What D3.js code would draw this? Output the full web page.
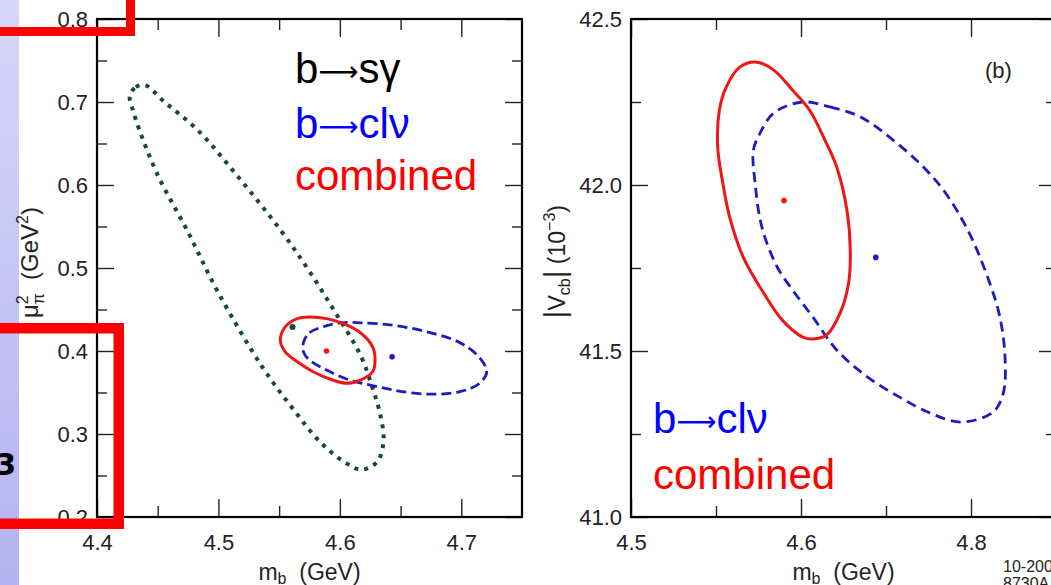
<!DOCTYPE html>
<html>
<head>
<meta charset="utf-8">
<script src="https://cdn.jsdelivr.net/npm/d3@7"></script>
<style>
  html, body { margin: 0; padding: 0; background: #fff; }
  svg { display: block; }
</style>
</head>
<body>
<script>
// ---- Panel (a): mu_pi^2 vs m_b ----
const aXMajor = [4.4, 4.5, 4.6, 4.7];
const aXMinor = [4.45, 4.55, 4.65];
const aYMajor = [0.2, 0.3, 0.4, 0.5, 0.6, 0.7, 0.8];
const aYMinor = [0.25, 0.35, 0.45, 0.55, 0.65, 0.75];
const aXLabels = ["4.4", "4.5", "4.6", "4.7"];
const aYLabels = ["0.2", "0.3", "0.4", "0.5", "0.6", "0.7", "0.8"];

// b -> s gamma contour (m_b, mu_pi^2)
const bsgContour = [
  [4.427, 0.707], [4.432, 0.718], [4.440, 0.720], [4.454, 0.702], [4.483, 0.666],
  [4.515, 0.612], [4.551, 0.546], [4.574, 0.498], [4.596, 0.447], [4.617, 0.395],
  [4.627, 0.355], [4.633, 0.325], [4.636, 0.293], [4.631, 0.267], [4.618, 0.257],
  [4.604, 0.266], [4.584, 0.290], [4.561, 0.331], [4.536, 0.381], [4.500, 0.470],
  [4.474, 0.546], [4.450, 0.612], [4.435, 0.666], [4.429, 0.693]
];
const bsgBest = [4.561, 0.429];

// b -> c l nu contour (m_b, mu_pi^2)
const bclvContourA = [
  [4.570, 0.410], [4.575, 0.422], [4.588, 0.430], [4.600, 0.434], [4.617, 0.434],
  [4.644, 0.431], [4.672, 0.423], [4.699, 0.410], [4.715, 0.392], [4.721, 0.375],
  [4.715, 0.361], [4.699, 0.351], [4.672, 0.348], [4.644, 0.353], [4.625, 0.359],
  [4.608, 0.365], [4.589, 0.377], [4.575, 0.389], [4.570, 0.399]
];
const bclvBestA = [4.643, 0.393];

// combined fit contour (m_b, mu_pi^2)
const combContourA = [
  [4.551, 0.413], [4.555, 0.429], [4.565, 0.439], [4.575, 0.441], [4.589, 0.439],
  [4.603, 0.433], [4.617, 0.422], [4.627, 0.405], [4.629, 0.389], [4.627, 0.375],
  [4.617, 0.365], [4.606, 0.361], [4.594, 0.365], [4.578, 0.375], [4.565, 0.387],
  [4.555, 0.399]
];
const combBestA = [4.589, 0.400];

// ---- Panel (b): |Vcb| vs m_b ----
const bXMajor = [4.5, 4.6, 4.7];
const bXLabels = ["4.5", "4.6", "4.8"];
const bXMinor = [4.55, 4.65];
const bYMajor = [41.0, 41.5, 42.0, 42.5];
const bYLabels = ["41.0", "41.5", "42.0", "42.5"];
const bYMinor = [41.25, 41.75, 42.25];

const bclvContourB = [
  [4.601, 42.250], [4.617, 42.235], [4.635, 42.205], [4.654, 42.136], [4.672, 42.054],
  [4.685, 41.976], [4.699, 41.855], [4.711, 41.705], [4.717, 41.602], [4.720, 41.482],
  [4.719, 41.373], [4.713, 41.316], [4.694, 41.286], [4.676, 41.313], [4.658, 41.361],
  [4.639, 41.422], [4.621, 41.503], [4.607, 41.602], [4.595, 41.684], [4.586, 41.753],
  [4.577, 41.873], [4.573, 42.006], [4.572, 42.105], [4.576, 42.157], [4.584, 42.217]
];
const bclvBestB = [4.644, 41.782];

const combContourB = [
  [4.574, 42.370], [4.584, 42.346], [4.595, 42.286], [4.605, 42.226], [4.614, 42.136],
  [4.621, 42.054], [4.627, 41.925], [4.629, 41.804], [4.628, 41.705], [4.623, 41.614],
  [4.615, 41.548], [4.607, 41.536], [4.601, 41.542], [4.589, 41.593], [4.578, 41.675],
  [4.566, 41.783], [4.558, 41.904], [4.554, 42.006], [4.551, 42.114], [4.552, 42.226],
  [4.556, 42.295], [4.564, 42.355]
];
const combBestB = [4.590, 41.953];

const FONT = "'Liberation Sans', Arial, Helvetica, sans-serif";
const ARROW_FONT = "'DejaVu Sans', sans-serif";
const GREEN = "#17493b", BLUE = "#1c1cc0", RED = "#f01616";

const W = 1051, H = 585;
const svg = d3.select("body").append("svg").attr("width", W).attr("height", H)
  .style("font-family", FONT);

svg.append("rect").attr("width", W).attr("height", H).attr("fill", "#fff");

// slide side bar
const defs = svg.append("defs");
const grad = defs.append("linearGradient").attr("id", "sidebar")
  .attr("x1", 0).attr("y1", 0).attr("x2", 0).attr("y2", 1);
grad.append("stop").attr("offset", 0).attr("stop-color", "#d7d7fa");
grad.append("stop").attr("offset", 1).attr("stop-color", "#b3b3f1");
svg.append("rect").attr("x", 0).attr("y", 0).attr("width", 19).attr("height", H)
  .attr("fill", "url(#sidebar)");

function panel(opts) {
  const x = d3.scaleLinear().domain(opts.xDomain).range([opts.left, opts.right]);
  const y = d3.scaleLinear().domain(opts.yDomain).range([opts.bottom, opts.top]);
  const g = svg.append("g");

  const styleAxis = sel => {
    sel.select(".domain").remove();
    sel.selectAll(".tick line").attr("stroke", "#222").attr("stroke-width", 1.4);
    sel.selectAll(".tick text").attr("fill", "#222").attr("font-size", 22)
      .attr("font-family", FONT);
    sel.attr("font-family", null).attr("font-size", null);
  };

  // bottom
  g.append("g").attr("transform", `translate(0,${opts.bottom})`)
    .call(d3.axisBottom(x).tickValues(opts.xMajor).tickSize(-18).tickPadding(17)
      .tickFormat((d, i) => opts.xLabels[i])).call(styleAxis);
  g.append("g").attr("transform", `translate(0,${opts.bottom})`)
    .call(d3.axisBottom(x).tickValues(opts.xMinor).tickSize(-11).tickFormat("")).call(styleAxis);
  // top
  g.append("g").attr("transform", `translate(0,${opts.top})`)
    .call(d3.axisTop(x).tickValues(opts.xMajor).tickSize(-18).tickFormat("")).call(styleAxis);
  g.append("g").attr("transform", `translate(0,${opts.top})`)
    .call(d3.axisTop(x).tickValues(opts.xMinor).tickSize(-11).tickFormat("")).call(styleAxis);
  // left
  g.append("g").attr("transform", `translate(${opts.left},0)`)
    .call(d3.axisLeft(y).tickValues(opts.yMajor).tickSize(-17).tickPadding(9)
      .tickFormat((d, i) => opts.yLabels[i])).call(styleAxis);
  g.append("g").attr("transform", `translate(${opts.left},0)`)
    .call(d3.axisLeft(y).tickValues(opts.yMinor).tickSize(-10).tickFormat("")).call(styleAxis);
  // right
  g.append("g").attr("transform", `translate(${opts.right},0)`)
    .call(d3.axisRight(y).tickValues(opts.yMajor).tickSize(-17).tickFormat("")).call(styleAxis);
  g.append("g").attr("transform", `translate(${opts.right},0)`)
    .call(d3.axisRight(y).tickValues(opts.yMinor).tickSize(-10).tickFormat("")).call(styleAxis);

  // frame
  g.append("rect").attr("x", opts.left).attr("y", opts.top)
    .attr("width", opts.right - opts.left).attr("height", opts.bottom - opts.top)
    .attr("fill", "none").attr("stroke", "#000").attr("stroke-width", 2.2);

  const line = d3.line().x(d => x(d[0])).y(d => y(d[1]))
    .curve(d3.curveCatmullRomClosed.alpha(0.5));

  opts.contours.forEach(c => {
    g.append("path").datum(c.points).attr("d", line)
      .attr("fill", "none").attr("stroke", c.color).attr("stroke-width", c.width)
      .attr("stroke-dasharray", c.dash || null).attr("stroke-linecap", "butt");
  });
  opts.contours.forEach(c => {
    g.append("circle").attr("cx", x(c.best[0])).attr("cy", y(c.best[1]))
      .attr("r", c.r).attr("fill", c.color);
  });

  // x axis title
  const xt = g.append("text").attr("x", (opts.left + opts.right) / 2).attr("y", 580)
    .attr("text-anchor", "middle").attr("font-size", 23).attr("fill", "#222");
  xt.append("tspan").text("m");
  xt.append("tspan").attr("font-size", 16).attr("dy", 4).text("b");
  xt.append("tspan").attr("dy", -4).text("\u00a0 (GeV)");

  return { g, x, y };
}

const A = panel({
  left: 97, right: 522, top: 19, bottom: 517,
  xDomain: [4.4, 4.75], yDomain: [0.2, 0.8],
  xMajor: aXMajor, xMinor: aXMinor, xLabels: aXLabels,
  yMajor: aYMajor, yMinor: aYMinor, yLabels: aYLabels,
  contours: [
    { points: bsgContour, best: bsgBest, color: GREEN, width: 4, dash: "4,6", r: 3 },
    { points: bclvContourA, best: bclvBestA, color: BLUE, width: 2.8, dash: "10,5", r: 2.8 },
    { points: combContourA, best: combBestA, color: RED, width: 3, r: 2.8 }
  ]
});

const B = panel({
  left: 631, right: 1056, top: 19, bottom: 517,
  xDomain: [4.5, 4.75], yDomain: [41.0, 42.5],
  xMajor: bXMajor, xMinor: bXMinor, xLabels: bXLabels,
  yMajor: bYMajor, yMinor: bYMinor, yLabels: bYLabels,
  contours: [
    { points: bclvContourB, best: bclvBestB, color: BLUE, width: 2.8, dash: "10,6", r: 2.8 },
    { points: combContourB, best: combBestB, color: RED, width: 3, r: 2.8 }
  ]
});

// y axis title, panel (a)
const ya = svg.append("text").attr("transform", "translate(38,207) rotate(-90)")
  .attr("text-anchor", "end").attr("font-size", 24).attr("fill", "#222");
ya.append("tspan").text("\u03bc");
ya.append("tspan").attr("font-size", 16).attr("dy", -10).text("2");
ya.append("tspan").attr("font-size", 16).attr("dx", -9).attr("dy", 16).text("\u03c0");
ya.append("tspan").attr("dy", -6).text("\u00a0 (GeV");
ya.append("tspan").attr("font-size", 16).attr("dy", -10).text("2");
ya.append("tspan").attr("dy", 10).text(")");

// y axis title, panel (b)
const yb = svg.append("text").attr("transform", "translate(565,205) rotate(-90)")
  .attr("text-anchor", "end").attr("font-size", 23).attr("fill", "#222");
yb.append("tspan").attr("font-size", 30).text("|");
yb.append("tspan").text("V");
yb.append("tspan").attr("font-size", 16).attr("dy", 5).text("cb");
yb.append("tspan").attr("font-size", 30).attr("dy", -5).text("|");
yb.append("tspan").text("\u00a0(10");
yb.append("tspan").attr("font-size", 16).attr("dy", -10).text("\u22123");
yb.append("tspan").attr("dy", 10).text(")");

// legends: [before arrow, after arrow] pieces, or a plain word
function legend(x, entries) {
  const t = svg.append("g").selectAll("text").data(entries).join("text")
    .attr("x", x).attr("y", d => d.y).attr("font-size", 42)
    .attr("fill", d => d.color);
  t.each(function (d) {
    const s = d3.select(this);
    if (d.to) {
      s.append("tspan").text(d.from);
      s.append("tspan").attr("font-family", ARROW_FONT).attr("font-size", 28)
        .attr("dy", -2).text("\u27f6");
      s.append("tspan").attr("dy", 2).text(d.to);
    } else {
      s.text(d.from);
    }
  });
}

legend(295, [
  { from: "b", to: "s\u03b3", color: "#000", y: 83 },
  { from: "b", to: "cl\u03bd", color: "#0000ff", y: 138 },
  { from: "combined", color: "#ff0000", y: 190 }
]);
legend(653, [
  { from: "b", to: "cl\u03bd", color: "#0000ff", y: 433 },
  { from: "combined", color: "#ff0000", y: 489 }
]);

svg.append("text").attr("x", 985).attr("y", 78).attr("font-size", 22)
  .attr("fill", "#222").text("(b)");

svg.append("text").attr("x", 1003).attr("y", 572).attr("font-size", 16)
  .attr("fill", "#222").text("10-200");
svg.append("text").attr("x", 1003).attr("y", 589).attr("font-size", 16)
  .attr("fill", "#222").text("8730A");

// slide number
svg.append("text").attr("x", 16).attr("y", 475).attr("text-anchor", "end")
  .attr("font-family", "'DejaVu Sans', Verdana, sans-serif").attr("font-weight", "bold")
  .attr("font-size", 30).attr("fill", "#000").text("3");

// highlight boxes
svg.append("rect").attr("x", -30).attr("y", -30).attr("width", 160.5).attr("height", 61.5)
  .attr("fill", "none").attr("stroke", "#ff0000").attr("stroke-width", 9);
svg.append("rect").attr("x", -30).attr("y", 328.25).attr("width", 148.75).attr("height", 195.5)
  .attr("fill", "none").attr("stroke", "#ff0000").attr("stroke-width", 10.5);
</script>
</body>
</html>
